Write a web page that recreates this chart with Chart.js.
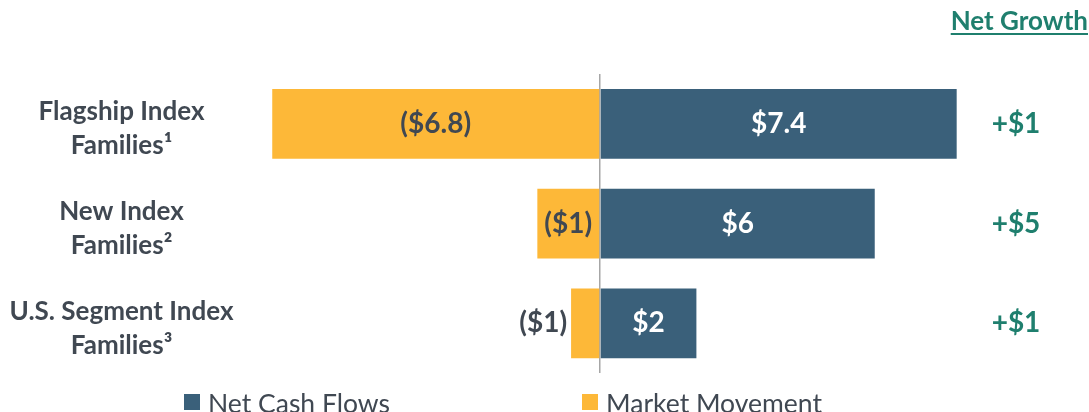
<!DOCTYPE html>
<html>
<head>
<meta charset="utf-8">
<script src="https://cdn.jsdelivr.net/npm/chart.js@4.4.0/dist/chart.umd.min.js"></script>
<style>
html, body { margin: 0; padding: 0; overflow: hidden; background: #fff; }
#wrap { position: relative; width: 1089px; height: 412px; }
</style>
</head>
<body>
<div id="wrap"><canvas id="chart"></canvas></div>
<script>
const categories = [['Flagship Index', 'Families¹'], ['New Index', 'Families²'], ['U.S. Segment Index', 'Families³']];
const netCashFlows = [7.4, 5.7, 2.0];
const marketMovement = [-6.8, -1.3, -0.6];
const netCashText = ['$7.4', '$6', '$2'];
const marketText = ['($6.8)', '($1)', '($1)'];
const netGrowthText = ['+$1', '+$5', '+$1'];

const DARK = '#3a607a';
const ORANGE = '#fdb838';
const TEAL = '#1f7f6e';
const GREY_TXT = '#404852';
const FONT = 'Lato, "Open Sans", sans-serif';

// texto das barras, coluna "Net Growth" e legenda
const labelsPlugin = {
    id: 'labels',
    afterDatasetsDraw(chart) {
        const ctx = chart.ctx;
        ctx.save();
        ctx.font = 'bold 28px ' + FONT;
        ctx.textBaseline = 'middle';

        chart.getDatasetMeta(0).data.forEach((bar, i) => {
            ctx.fillStyle = '#fff';
            ctx.textAlign = 'center';
            ctx.fillText(netCashText[i], (bar.x + bar.base) / 2, bar.y);
        });

        chart.getDatasetMeta(1).data.forEach((bar, i) => {
            const w = Math.abs(bar.base - bar.x);
            const tw = ctx.measureText(marketText[i]).width;
            ctx.fillStyle = GREY_TXT;
            if (tw + 6 > w) {
                ctx.textAlign = 'right';
                ctx.fillText(marketText[i], Math.min(bar.x, bar.base) - 4, bar.y);
            } else {
                ctx.textAlign = 'center';
                ctx.fillText(marketText[i], (bar.x + bar.base) / 2, bar.y);
            }
        });

        ctx.fillStyle = TEAL;
        ctx.textAlign = 'center';
        chart.getDatasetMeta(0).data.forEach((bar, i) => {
            ctx.fillText(netGrowthText[i], 1016, bar.y);
        });

        // cabeçalho
        ctx.font = 'bold 26px ' + FONT;
        ctx.textAlign = 'right';
        ctx.textBaseline = 'alphabetic';
        ctx.fillText('Net Growth', 1088, 30);
        const hw = ctx.measureText('Net Growth').width;
        ctx.fillRect(1088 - hw, 33, hw, 2);

        // legenda
        ctx.font = '26.5px ' + FONT;
        ctx.textAlign = 'left';
        const legendX = [184, 582];
        chart.data.datasets.forEach((ds, i) => {
            ctx.fillStyle = ds.backgroundColor;
            ctx.fillRect(legendX[i], 394, 16, 16);
            ctx.fillStyle = GREY_TXT;
            ctx.fillText(ds.label, legendX[i] + 24, 413);
        });
        ctx.restore();
    }
};

const ctx = document.getElementById('chart').getContext('2d');
const chart = new Chart(ctx, {
    type: 'bar',
    data: {
        labels: categories,
        datasets: [
            { label: 'Net Cash Flows', data: netCashFlows, backgroundColor: DARK, barPercentage: 0.7, categoryPercentage: 1 },
            { label: 'Market Movement', data: marketMovement, backgroundColor: ORANGE, barPercentage: 0.7, categoryPercentage: 1 }
        ]
    },
    options: {
        indexAxis: 'y',
        responsive: true, maintainAspectRatio: false, animation: false,
        layout: { padding: { left: 0, right: 7, top: 74, bottom: 38 } },
        plugins: { legend: { display: false }, tooltip: { enabled: false } },
        scales: {
            x: {
                stacked: true, min: -7.5, max: 10, z: 1,
                ticks: { display: false, stepSize: 2.5 },
                border: { display: false },
                grid: {
                    drawTicks: false, lineWidth: 1.5,
                    color: (c) => c.tick && c.tick.value === 0 ? '#a6a6a6' : 'rgba(0,0,0,0)'
                }
            },
            y: {
                stacked: true,
                afterFit: (scale) => { scale.width = 238.5; },
                border: { display: false },
                grid: { display: false, drawTicks: false },
                ticks: {
                    crossAlign: 'center', padding: 5, labelOffset: 5, color: GREY_TXT,
                    font: { family: FONT, size: 26, weight: 'bold', lineHeight: 1.3 }
                }
            }
        }
    },
    plugins: [labelsPlugin]
});
</script>
</body>
</html>
